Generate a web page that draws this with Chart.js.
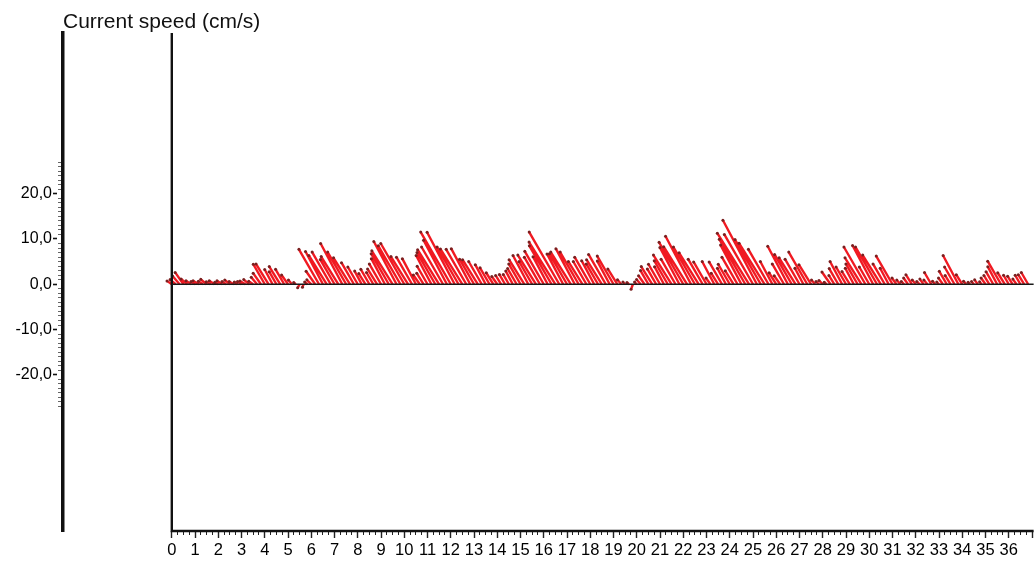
<!DOCTYPE html>
<html>
<head>
<meta charset="utf-8">
<title>Current speed</title>
<script src="https://cdn.jsdelivr.net/npm/chart.js@4.4.1/dist/chart.umd.min.js"></script>
<style>
  html, body { margin: 0; padding: 0; background: #ffffff; }
  canvas { display: block; }
</style>
</head>
<body>
<canvas id="chart" width="1035" height="568"></canvas>
<script>
// Current meter record: one vector every 4 hours, time axis in days.
const SAMPLE_HOURS = 4;

// Current speed (cm/s), six samples per day, day 0 .. day 36
const speed = [
  1.3, 1.6, 2.4, 3.2, 1.8, 1.4,
  1.1, 1.5, 1.2, 1.7, 1.1, 1.4,
  0.9, 1.4, 1.1, 1.5, 1.2, 0.9,
  1.1, 1.4, 1.6, 1.2, 2.0, 3.0,
  5.1, 5.3, 3.7, 3.2, 4.6, 3.8,
  2.5, 1.2, 0.6, 0.9, 0.7, 0.8,
  1.4, 3.5, 8.9, 8.2, 7.5, 8.2,
  6.3, 7.2, 10.2, 8.2, 6.9, 5.5,
  4.4, 3.3, 2.8, 3.8, 3.0, 4.0,
  5.2, 6.4, 7.8, 8.7, 10.7, 9.8,
  10.4, 7.2, 6.9, 6.4, 2.5, 2.9,
  4.6, 7.2, 8.1, 9.0, 9.5, 11.0,
  13.3, 13.0, 9.5, 9.2, 8.9, 8.9,
  6.4, 6.4, 5.8, 4.9, 4.2, 3.0,
  2.1, 2.3, 2.5, 2.5, 3.3, 4.0,
  5.2, 6.4, 7.2, 5.8, 7.6, 6.9,
  8.4, 6.9, 9.8, 11.0, 13.3, 7.6,
  7.8, 8.4, 8.9, 8.2, 5.9, 5.8,
  6.9, 5.9, 5.2, 6.4, 7.6, 5.8,
  7.2, 4.0, 1.3, 0.7, 0.6, 1.2,
  0.7, 1.4, 2.3, 3.5, 4.6, 3.9,
  5.1, 4.4, 6.0, 7.6, 6.4, 9.2,
  10.7, 9.8, 12.0, 9.5, 8.2, 6.4,
  5.7, 1.7, 5.7, 2.9, 5.7, 4.0,
  5.1, 3.5, 6.9, 9.8, 11.5, 13.3,
  12.7, 16.0, 11.4, 10.7, 8.9, 5.7,
  3.0, 2.3, 5.2, 9.5, 7.6, 6.9,
  6.4, 4.0, 8.2, 5.1, 1.2, 0.9,
  1.2, 0.7, 3.3, 2.3, 4.0, 5.7,
  4.4, 3.3, 4.0, 5.2, 6.9, 9.5,
  4.4, 9.7, 9.5, 7.6, 5.2, 4.0,
  7.2, 1.7, 1.2, 0.9, 1.7, 2.5,
  1.2, 0.9, 1.4, 1.2, 3.0, 0.9,
  0.7, 1.7, 3.3, 2.3, 4.4, 7.2,
  2.5, 0.9, 0.6, 0.8, 1.2, 0.7,
  1.7, 2.3, 3.2, 4.4, 5.9, 3.0,
  2.3, 2.1, 1.4, 2.3, 2.5, 3.0
];

// Current direction (degrees, towards, clockwise from north)
const direction = [
  305, 310, 320, 325, 310, 305,
  305, 300, 305, 310, 300, 305,
  300, 305, 305, 310, 300, 305,
  305, 300, 310, 305, 320, 325,
  330, 328, 332, 330, 328, 330,
  325, 320, 310, 210, 200, 310,
  315, 325, 330, 332, 328, 330,
  330, 328, 332, 330, 328, 330,
  330, 332, 328, 330, 330, 328,
  330, 332, 330, 328, 332, 330,
  330, 328, 330, 332, 325, 328,
  330, 332, 330, 328, 330, 332,
  330, 332, 330, 328, 330, 332,
  330, 328, 330, 332, 330, 328,
  325, 328, 330, 330, 332, 330,
  330, 328, 332, 330, 328, 330,
  330, 332, 330, 328, 330, 332,
  330, 328, 332, 330, 328, 330,
  330, 332, 330, 328, 330, 332,
  330, 328, 320, 315, 310, 200,
  315, 320, 325, 330, 328, 330,
  330, 332, 330, 328, 330, 332,
  330, 328, 332, 330, 328, 330,
  330, 325, 332, 328, 330, 332,
  330, 328, 330, 332, 330, 328,
  330, 332, 330, 328, 330, 332,
  328, 325, 330, 332, 330, 328,
  330, 332, 330, 328, 320, 315,
  315, 310, 325, 328, 330, 332,
  330, 328, 332, 330, 328, 330,
  330, 332, 330, 328, 330, 332,
  330, 325, 320, 315, 325, 328,
  320, 315, 325, 320, 330, 320,
  315, 325, 330, 328, 330, 332,
  328, 320, 315, 320, 325, 320,
  325, 328, 330, 332, 330, 328,
  330, 328, 325, 330, 328, 330
];

// Day labels on the time axis
const dayLabels = [
  '0', '1', '2', '3', '4', '5', '6', '7', '8', '9',
  '10', '11', '12', '13', '14', '15', '16', '17', '18', '19',
  '20', '21', '22', '23', '24', '25', '26', '27', '28', '29',
  '30', '31', '32', '33', '34', '35', '36'
];

// Labelled speed ticks
const speedTickValues = [-20, -10, 0, 10, 20];
const speedTickLabels = ['-20,0', '-10,0', '0,0', '10,0', '20,0'];

// Axis extents and stick aspect (days of time axis per cm/s of east component)
const X_MIN = -4.68, X_MAX = 37.07;
const Y_MIN = -54.5, Y_MAX = 55.5;
const U_SCALE = 0.1945;
const X_MINOR_STEP = 0.25;
const X_TICK_END = 37;
const Y_MINOR_RANGE = 27;

// Each stick: base on the zero line at its time, tip at (u, v); null breaks the line.
const stickPoints = [];
speed.forEach((s, i) => {
  const t = i * SAMPLE_HOURS / 24;
  const rad = direction[i] * Math.PI / 180;
  const u = s * Math.sin(rad);
  const v = s * Math.cos(rad);
  stickPoints.push({ x: t, y: 0 }, { x: t + u * U_SCALE, y: v }, { x: t, y: null });
});

const xTicks = [];
for (let i = 0; i * X_MINOR_STEP <= X_TICK_END; i++) xTicks.push(i * X_MINOR_STEP);
const yTicks = [];
for (let v = -Y_MINOR_RANGE; v <= Y_MINOR_RANGE; v++) yTicks.push(v);

const FONT = '"Liberation Sans", Arial, Helvetica, sans-serif';

// Axis caption above the speed scale
const captionPlugin = {
  id: 'speedCaption',
  afterDraw(chart) {
    const c = chart.ctx;
    c.save();
    c.font = '21px ' + FONT;
    c.fillStyle = '#111111';
    c.textAlign = 'left';
    c.textBaseline = 'alphabetic';
    c.fillText('Current speed (cm/s)', chart.chartArea.left, 27.5);
    c.restore();
  }
};

new Chart(document.getElementById('chart'), {
  type: 'line',
  data: {
    datasets: [
      {
        label: 'zero',
        data: [{ x: 0, y: 0 }, { x: X_MAX, y: 0 }],
        borderColor: '#1a1a1a',
        borderWidth: 1.6,
        pointRadius: 0,
        clip: false,
        order: 0
      },
      {
        label: 'frame',
        data: [{ x: 0, y: Y_MAX }, { x: 0, y: Y_MIN }, { x: X_MAX, y: Y_MIN }],
        borderColor: '#111111',
        borderWidth: 2.4,
        pointRadius: 0,
        clip: false,
        order: 0
      },
      {
        label: 'Current',
        data: stickPoints,
        borderColor: '#f01a22',
        borderWidth: 2.4,
        spanGaps: false,
        pointRadius: (ctx) => (ctx.index % 3 === 1 ? 1.5 : 0),
        pointBackgroundColor: '#7a2020',
        pointBorderWidth: 0,
        order: 1
      }
    ]
  },
  options: {
    responsive: false,
    devicePixelRatio: 1,
    animation: false,
    events: [],
    layout: { padding: { top: 33, right: 0, bottom: 0, left: 0 } },
    plugins: {
      legend: { display: false },
      tooltip: { enabled: false },
      title: { display: false }
    },
    scales: {
      x: {
        type: 'linear',
        min: X_MIN,
        max: X_MAX,
        afterBuildTicks: (scale) => { scale.ticks = xTicks.map((v) => ({ value: v })); },
        afterFit: (scale) => { scale.height = 37; },
        border: { display: false },
        grid: {
          drawOnChartArea: false,
          tickLength: 7,
          tickColor: '#222222',
          tickWidth: (ctx) => (Number.isInteger(ctx.tick.value) ? 1.4 : 1),
          tickBorderDash: (ctx) => (Number.isInteger(ctx.tick.value) ? [] : [4, 10])
        },
        ticks: {
          autoSkip: false,
          maxRotation: 0,
          padding: 3,
          color: '#000000',
          font: { family: FONT, size: 16.5 },
          callback: (value) => (Number.isInteger(value) && dayLabels[value] !== undefined ? dayLabels[value] : '')
        }
      },
      y: {
        type: 'linear',
        position: 'left',
        min: Y_MIN,
        max: Y_MAX,
        afterBuildTicks: (scale) => { scale.ticks = yTicks.map((v) => ({ value: v })); },
        afterFit: (scale) => { scale.width = 63; },
        border: { display: true, color: '#111111', width: 3.5 },
        grid: {
          drawOnChartArea: false,
          tickLength: 10,
          tickColor: (ctx) => (speedTickValues.includes(ctx.tick.value) ? '#111111' : '#666666'),
          tickWidth: (ctx) => (speedTickValues.includes(ctx.tick.value) ? 1.6 : 1),
          tickBorderDash: (ctx) => (speedTickValues.includes(ctx.tick.value) ? [4, 20] : [0, 5, 4.5, 20])
        },
        ticks: {
          autoSkip: false,
          padding: 1,
          color: '#000000',
          font: { family: FONT, size: 16 },
          callback: (value) => {
            const i = speedTickValues.indexOf(value);
            return i >= 0 ? speedTickLabels[i] : '';
          }
        }
      }
    }
  },
  plugins: [captionPlugin]
});
</script>
</body>
</html>
